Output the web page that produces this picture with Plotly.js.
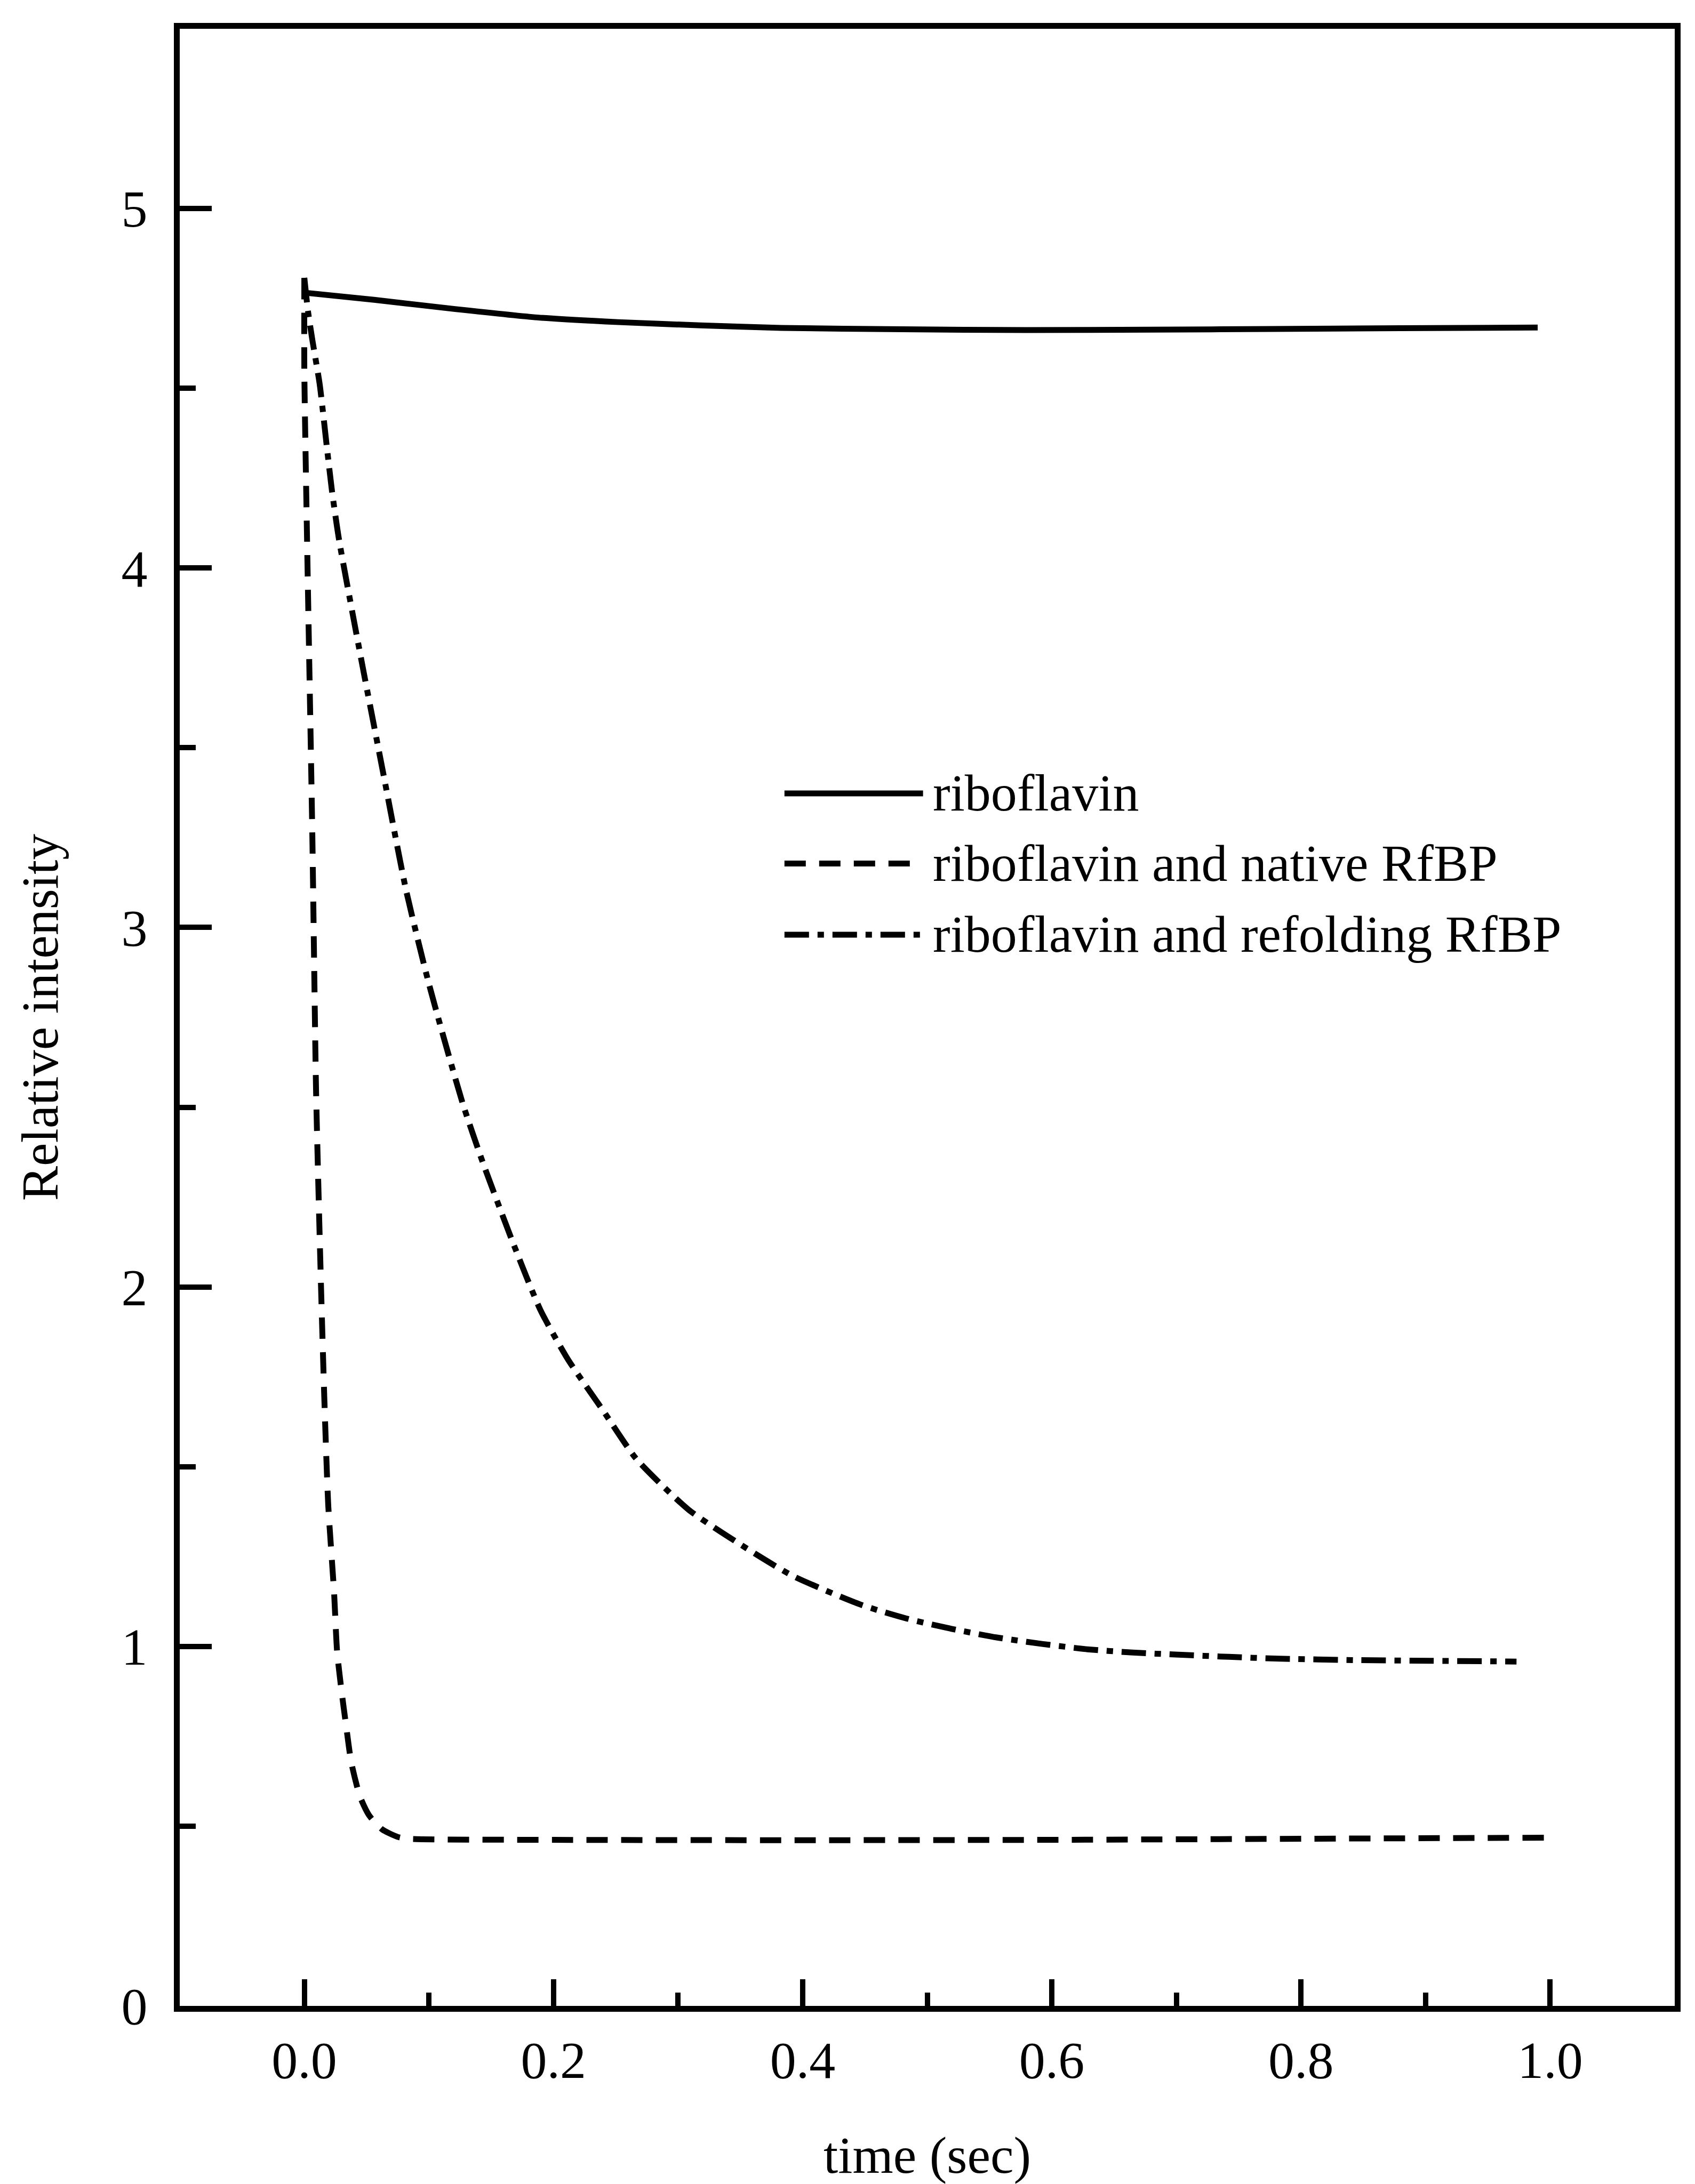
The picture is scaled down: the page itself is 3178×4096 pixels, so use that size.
<!DOCTYPE html>
<html><head><meta charset="utf-8">
<script src="https://cdn.plot.ly/plotly-3.0.1.min.js"></script>
<style>html,body{margin:0;padding:0;background:#fff}#chart{width:3178px;height:4096px}</style>
</head><body><div id="chart"></div>
<script>
// ---- data ----
const seriesNames = ["riboflavin", "riboflavin and native RfBP", "riboflavin and refolding RfBP"];

const ribTime = [0.0, 0.056, 0.122, 0.187, 0.252, 0.318, 0.383, 0.48, 0.58, 0.68, 0.776, 0.88, 0.99];
const ribIntensity = [4.766, 4.746, 4.720, 4.697, 4.684, 4.675, 4.668, 4.664, 4.662, 4.663, 4.665, 4.667, 4.669];

const nativeTime = [0.0, 0.0, 0.0022, 0.0064, 0.0094, 0.0132, 0.0161, 0.0192, 0.0239, 0.0263, 0.0298, 0.0336, 0.0376, 0.0446, 0.052, 0.0625, 0.075, 0.0833, 0.2, 0.4, 0.6, 0.8, 0.995];
const nativeIntensity = [4.807, 4.55, 4.078, 3.263, 2.55, 2.026, 1.685, 1.393, 1.149, 0.986, 0.878, 0.778, 0.679, 0.583, 0.53, 0.491, 0.470, 0.465, 0.462, 0.461, 0.462, 0.465, 0.468];

const refoldTime = [0.0, 0.003, 0.0066, 0.0123, 0.018, 0.0222, 0.0279, 0.0471, 0.0629, 0.0816, 0.1001, 0.127, 0.1433, 0.1677, 0.1895, 0.2115, 0.2391, 0.2664, 0.3082, 0.3499, 0.3916, 0.4468, 0.483, 0.5195, 0.5558, 0.5922, 0.6286, 0.6649, 0.7015, 0.7421, 0.7824, 0.8432, 0.904, 0.973];
const refoldIntensity = [4.807, 4.713, 4.631, 4.512, 4.339, 4.214, 4.078, 3.72, 3.437, 3.105, 2.842, 2.512, 2.346, 2.121, 1.936, 1.799, 1.66, 1.522, 1.381, 1.284, 1.197, 1.116, 1.078, 1.049, 1.025, 1.007, 0.992, 0.983, 0.977, 0.971, 0.966, 0.962, 0.960, 0.958];

const xTitle = "time (sec)";
const yTitle = "Relative intensity";

// ---- styling ----
const FONT = "Liberation Serif, Times New Roman, serif";
const FS = 98;
const LW = 11;
const dashes = ["solid", "40px,25px", "46px,16px,12px,16px"];

const xs = [ribTime, nativeTime, refoldTime];
const ys = [ribIntensity, nativeIntensity, refoldIntensity];

const traces = xs.map((x, i) => ({
  x: x, y: ys[i], type: "scatter", mode: "lines", name: seriesNames[i],
  line: {color: "#000", width: LW, dash: dashes[i], shape: "spline", smoothing: 0.6},
  showlegend: false, hoverinfo: "skip"
}));

// custom legend (long line samples like the original)
const legX0 = 0.4045, legX1 = 0.4972, legTextX = 0.5030;
const legLineY = [0.6133, 0.5778, 0.5418];
const legTextY = [0.6135, 0.5780, 0.5422];
const shapes = seriesNames.map((n, i) => ({
  type: "line", xref: "paper", yref: "paper",
  x0: legX0, x1: legX1, y0: legLineY[i], y1: legLineY[i],
  line: {color: "#000", width: LW, dash: dashes[i]}
}));
const annotations = seriesNames.map((n, i) => ({
  text: n, xref: "paper", yref: "paper", x: legTextX, y: legTextY[i],
  xanchor: "left", yanchor: "middle", showarrow: false,
  font: {family: FONT, size: FS, color: "#000"}
}));

const axisCommon = {
  showline: true, linecolor: "#000", linewidth: LW, mirror: true,
  showgrid: false, zeroline: false,
  ticks: "inside", tickcolor: "#000", tickwidth: 10,
  tickfont: {family: FONT, size: FS, color: "#000"}
};

const layout = {
  width: 3178, height: 4096,
  margin: {l: 337, r: 38, t: 54, b: 334},
  paper_bgcolor: "#fff", plot_bgcolor: "#fff",
  font: {family: FONT, size: FS, color: "#000"},
  xaxis: Object.assign({}, axisCommon, {
    range: [-0.1, 1.1], tick0: 0, dtick: 0.2, tickformat: ".1f", ticklen: 50,
    ticklabelstandoff: 6,
    minor: {ticks: "inside", ticklen: 25, tickwidth: 10, tickcolor: "#000", dtick: 0.1, tick0: 0, showgrid: false},
    title: {text: xTitle, font: {family: FONT, size: FS, color: "#000"}, standoff: 102}
  }),
  yaxis: Object.assign({}, axisCommon, {
    range: [0, 5.5], tick0: 0, dtick: 1, ticklen: 60,
    ticklabelstandoff: 30,
    minor: {ticks: "inside", ticklen: 30, tickwidth: 10, tickcolor: "#000", dtick: 0.5, tick0: 0, showgrid: false},
    title: {text: yTitle, font: {family: FONT, size: FS, color: "#000"}, standoff: 91}
  }),
  shapes: shapes,
  annotations: annotations,
  showlegend: false
};

Plotly.newPlot("chart", traces, layout, {staticPlot: true, displayModeBar: false});
</script>
</body></html>
